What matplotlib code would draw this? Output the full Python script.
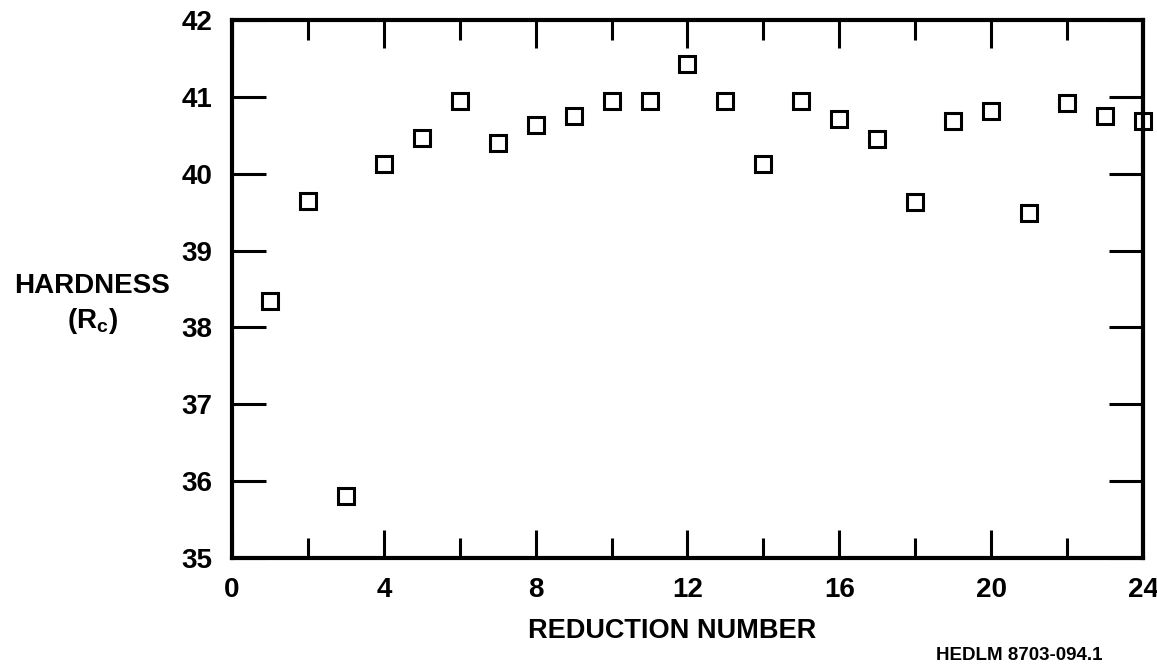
import numpy as np
import matplotlib
matplotlib.use('Agg')
import matplotlib.pyplot as plt
from matplotlib.ticker import MultipleLocator

plt.rcParams['font.family'] = ['Liberation Sans', 'DejaVu Sans']
plt.rcParams['font.weight'] = 'bold'
plt.rcParams['mathtext.fontset'] = 'custom'
plt.rcParams['mathtext.rm'] = 'Liberation Sans:bold'
plt.rcParams['mathtext.bf'] = 'Liberation Sans:bold'

# hardness after each reduction
reduction = np.arange(1, 25)
hardness = [38.35, 39.64, 35.81, 40.12, 40.46, 40.95, 40.40, 40.63,
            40.75, 40.94, 40.94, 41.43, 40.94, 40.13, 40.94, 40.71,
            40.45, 39.63, 40.68, 40.81, 39.49, 40.92, 40.75, 40.69]

x_ticks = [0, 4, 8, 12, 16, 20, 24]
y_ticks = [35, 36, 37, 38, 39, 40, 41, 42]

fig = plt.figure(figsize=(11.57, 6.64), dpi=100)
ax = fig.add_axes([0.2005, 0.1596, 0.7874, 0.8104])

ax.plot(reduction, hardness, linestyle='none', marker='s', ms=11,
        mfc='white', mec='black', mew=2.2, clip_on=False)

ax.set_xlim(0, 24)
ax.set_ylim(35, 42)
ax.set_xticks(x_ticks)
ax.set_yticks(y_ticks)
ax.xaxis.set_minor_locator(MultipleLocator(2))

for s in ax.spines.values():
    s.set_linewidth(3)

ax.tick_params(axis='both', which='both', direction='in',
               top=True, right=True, width=2.2, labelsize=20, pad=14)
ax.tick_params(axis='y', which='major', length=24.5)
ax.tick_params(axis='x', which='major', length=20)
ax.tick_params(axis='x', which='minor', length=14.5)
for lab in ax.get_xticklabels() + ax.get_yticklabels():
    lab.set_fontweight('bold')

fig.text(0.5808, 0.0497, 'REDUCTION NUMBER', ha='center', va='center',
         fontsize=19.5, fontweight='bold')
fig.text(0.080, 0.569, 'HARDNESS', ha='center', va='center',
         fontsize=20, fontweight='bold')
fig.text(0.080, 0.517, r'(R$_{\rm c}$)', ha='center', va='center',
         fontsize=20, fontweight='bold')
fig.text(0.9525, 0.0128, 'HEDLM 8703-094.1', ha='right', va='center',
         fontsize=13.5, fontweight='bold')

fig.savefig('out.png', dpi=100)
